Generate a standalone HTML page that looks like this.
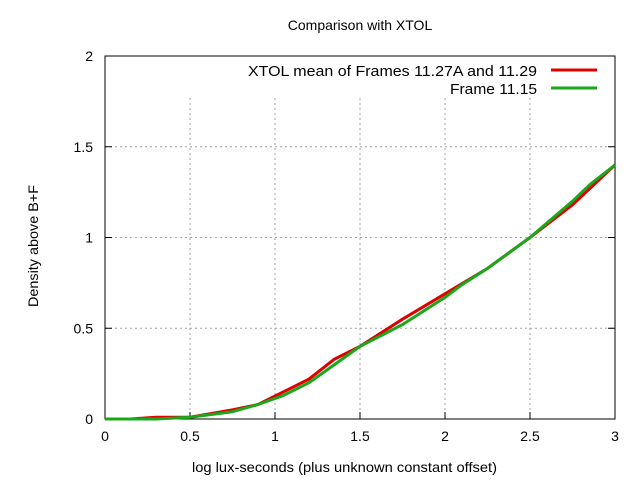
<!DOCTYPE html>
<html><head><meta charset="utf-8"><style>
body{margin:0;background:#fff}
svg{display:block;font-family:"Liberation Sans","DejaVu Sans",sans-serif;font-size:14px}
</style></head><body>
<svg id="chart" width="640" height="480" viewBox="0 0 640 480">
<rect width="640" height="480" fill="#fff"/>
<text x="360" y="30" text-anchor="middle" font-size="14">Comparison with XTOL</text>
<g id="grid"></g>
<g id="axes"></g>
<g id="series"></g>
<text x="192" y="472" textLength="305" lengthAdjust="spacingAndGlyphs">log lux-seconds (plus unknown constant offset)</text>
<text transform="translate(38,307) rotate(-90)" textLength="122" lengthAdjust="spacingAndGlyphs">Density above B+F</text>
<g>
<text x="248" y="76" textLength="289" lengthAdjust="spacingAndGlyphs" font-size="15">XTOL mean of Frames 11.27A and 11.29</text>
<line x1="551" y1="70" x2="597" y2="70" stroke="#e00000" stroke-width="3"/>
<text x="450" y="94" textLength="87" lengthAdjust="spacingAndGlyphs" font-size="15">Frame 11.15</text>
<line x1="551" y1="88" x2="597" y2="88" stroke="#1aa81a" stroke-width="3"/>
</g>
</svg>
<script>
const xTicks=[0,0.5,1,1.5,2,2.5,3];
const xTickLabels=["0","0.5","1","1.5","2","2.5","3"];
const yTicks=[0,0.5,1,1.5,2];
const yTickLabels=["0","0.5","1","1.5","2"];
const redX=[0,0.15,0.3,0.5,0.75,0.9,1.05,1.2,1.35,1.5,1.75,2,2.25,2.5,2.75,3];
const redY=[0,0,0.01,0.01,0.05,0.08,0.15,0.22,0.33,0.4,0.55,0.69,0.83,1.0,1.18,1.4];
const greenX=[0,0.3,0.5,0.75,0.9,1.05,1.2,1.35,1.5,1.75,2,2.1,2.25,2.5,2.75,2.85,3];
const greenY=[0,0,0.01,0.04,0.08,0.13,0.2,0.3,0.4,0.52,0.67,0.74,0.83,1.0,1.2,1.29,1.4];
const L=105,R=615,T=56,B=419;
const sx=v=>L+(v-0)/3*(R-L);
const sy=v=>B-(v-0)/2*(B-T);
const NS="http://www.w3.org/2000/svg";
function mk(tag,attrs,parent){const e=document.createElementNS(NS,tag);for(const k in attrs)e.setAttribute(k,attrs[k]);parent.appendChild(e);return e;}
const grid=document.getElementById('grid'),axes=document.getElementById('axes'),series=document.getElementById('series');
xTicks.forEach((v,i)=>{
 if(i>0&&i<xTicks.length-1){const g=mk('line',{x1:sx(v),x2:sx(v),y1:T+42,y2:B,stroke:'#a0a0a0','stroke-dasharray':'2,3'},grid);
 
 }
 const t=mk('line',{x1:sx(v),x2:sx(v),y1:B,y2:B-7,stroke:'#000'},axes);
 
 
 const lb=mk('text',{x:sx(v),y:B+22,'text-anchor':'middle'},axes);lb.textContent=xTickLabels[i];
 
 
});
yTicks.forEach((v,i)=>{
 if(i>0&&i<yTicks.length-1){const g=mk('line',{x1:L,x2:R,y1:sy(v),y2:sy(v),stroke:'#a0a0a0','stroke-dasharray':'2,3'},grid);
 
 }
 const t=mk('line',{x1:L,x2:L+7,y1:sy(v),y2:sy(v),stroke:'#000'},axes);
 
 
 const t2=mk('line',{x1:R,x2:R-7,y1:sy(v),y2:sy(v),stroke:'#000'},axes);
 
 
 const lb=mk('text',{x:L-12,y:sy(v)+5,'text-anchor':'end'},axes);lb.textContent=yTickLabels[i];
 
 
});
const frame=mk('rect',{x:L,y:T,width:R-L,height:B-T,fill:'none',stroke:'#000'},axes);


function line(xs,ys,col,name){
 const d=xs.map((x,i)=>(i?'L':'M')+sx(x).toFixed(1)+','+sy(ys[i]).toFixed(1)).join(' ');
 const p=mk('path',{d:d,fill:'none',stroke:col,'stroke-width':3,'stroke-linejoin':'round'},series);
 
 
}
line(redX,redY,'#e00000','series-xtol-mean');
line(greenX,greenY,'#1aa81a','series-frame-11-15');
</script>
</body></html>
